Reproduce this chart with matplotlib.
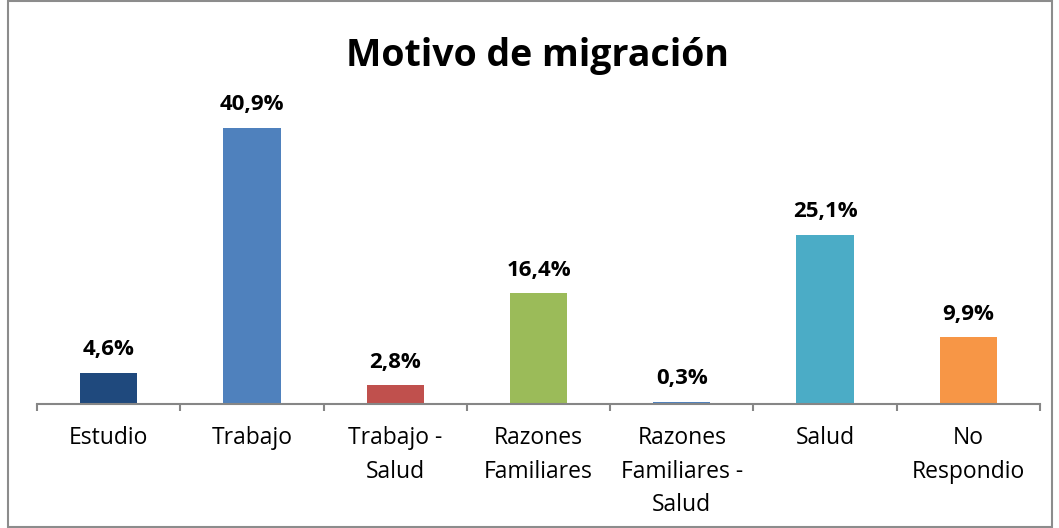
import matplotlib
matplotlib.use("Agg")
import matplotlib.pyplot as plt
from matplotlib.patches import Rectangle

categories = ["Estudio", "Trabajo", "Trabajo -\nSalud", "Razones\nFamiliares",
              "Razones\nFamiliares -\nSalud", "Salud", "No\nRespondio"]
values = [4.6, 40.9, 2.8, 16.4, 0.3, 25.1, 9.9]
labels = ["4,6%", "40,9%", "2,8%", "16,4%", "0,3%", "25,1%", "9,9%"]
colors = ["#1F497D", "#4F81BD", "#C0504D", "#9BBB59", "#4F81BD", "#4BACC6", "#F79646"]
title = "Motivo de migración"

W, H = 1059, 528
fig = plt.figure(figsize=(W/100, H/100), dpi=100)
plt.rcParams['font.family'] = ['Open Sans', 'DejaVu Sans']

fig.patches.append(Rectangle((8/W, 0.002), (1052-8)/W, 0.996, transform=fig.transFigure,
                             fill=False, edgecolor="#8c8c8c", linewidth=1.5))

ax_l, ax_r, ax_b = 37, 1040, 404
ymax = 51.0
pxper = (404-128)/40.9
ax_h = ymax*pxper
ax = fig.add_axes([ax_l/W, (H-ax_b)/H, (ax_r-ax_l)/W, ax_h/H])
x = list(range(len(values)))
ax.bar(x, values, width=0.4, color=colors)
ax.set_xlim(-0.5, len(values)-0.5)
ax.set_ylim(0, ymax)
for s in ["top", "right", "left"]:
    ax.spines[s].set_visible(False)
ax.spines["bottom"].set_color("#868686")
ax.spines["bottom"].set_linewidth(1.5)
ax.set_yticks([])
ax.set_xticks([i-0.5 for i in range(len(values)+1)], minor=False)
ax.set_xticklabels([])
ax.tick_params(axis="x", which="major", length=5, width=1.5, color="#868686", direction="out")
ax.set_xticks(x, minor=True)
ax.set_xticklabels(categories, minor=True, fontsize=16.5, linespacing=1.52)
ax.tick_params(axis="x", which="minor", length=0, pad=16)
for xi, v, lab in zip(x, values, labels):
    ax.annotate(lab, (xi, v), xytext=(0, 9), textcoords="offset points",
                ha="center", va="bottom", fontsize=16, fontweight="bold")
fig.text(537/W, 1-56/H, title, ha="center", va="center", fontsize=27, fontweight="bold")
fig.savefig("out.png", dpi=100)
